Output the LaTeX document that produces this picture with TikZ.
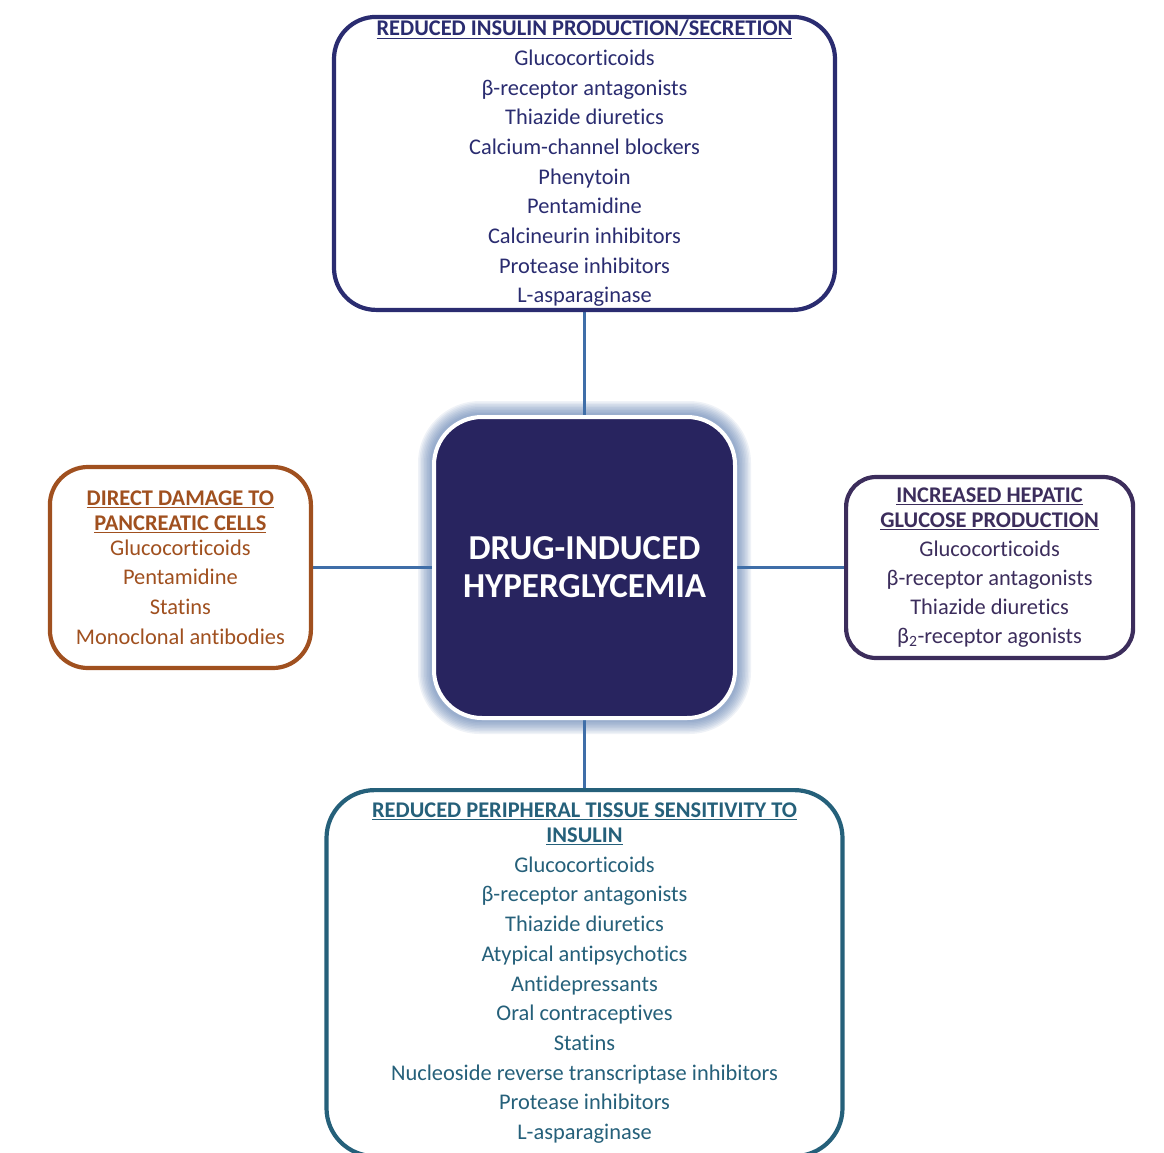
\documentclass[tikz,border=0pt]{standalone}
\usepackage{fontspec}
\setmainfont{Carlito}[Ligatures=NoCommon]
\usetikzlibrary{positioning,calc,backgrounds}
\definecolor{hubnavy}{HTML}{28245F}
\definecolor{secnavy}{HTML}{2A2C70}
\definecolor{dmgbrown}{HTML}{A0501F}
\definecolor{livpurple}{HTML}{3C2D5C}
\definecolor{tisteal}{HTML}{25607A}
\definecolor{linkblue}{HTML}{3F6EA8}
\definecolor{glowblue}{HTML}{4F72A8}
\newcommand{\mechhead}[1]{\textbf{\underline{#1}}}

\begin{document}
\begin{tikzpicture}[x=1pt,y=-1pt,
node distance=100pt,
causebox/.style={rectangle, draw, rounded corners=42pt, line width=4.2pt, fill=white, align=center, inner sep=0pt, font=\fontsize{22.4}{29.7}\selectfont},
hubbox/.style={rectangle, draw=white, fill=hubnavy, rounded corners=48pt, line width=4pt, minimum width=301pt, minimum height=301pt, align=center, text=white, font=\fontsize{35}{38}\selectfont\bfseries},
link/.style={line width=3.6pt, linkblue}
]
\useasboundingbox (0,0) rectangle (1164,1152);

\node (hub) [hubbox] at (584.5,567.5) {DRUG-INDUCED\\HYPERGLYCEMIA};
\node (secretion) [causebox, draw=secnavy, text=secnavy, minimum width=501pt, minimum height=293pt, above=103pt of hub] {\mechhead{REDUCED INSULIN PRODUCTION/SECRETION}\\
Glucocorticoids\\
β-receptor antagonists\\
Thiazide diuretics\\
Calcium-channel blockers\\
Phenytoin\\
Pentamidine\\
Calcineurin inhibitors\\
Protease inhibitors\\
L-asparaginase};
\node (damage) [causebox, draw=dmgbrown, text=dmgbrown, rounded corners=38pt, minimum width=261pt, minimum height=201pt, left=119pt of hub] {\mechhead{DIRECT DAMAGE TO}\\[-4.7pt]
\mechhead{PANCREATIC CELLS}\\[-4.7pt]
Glucocorticoids\\
Pentamidine\\
Statins\\
Monoclonal antibodies};
\node (hepatic) [causebox, draw=livpurple, text=livpurple, rounded corners=30pt, minimum width=287pt, minimum height=181pt, right=107pt of hub] {\mechhead{INCREASED HEPATIC}\\[-4.7pt]
\mechhead{GLUCOSE PRODUCTION}\\[-0.7pt]
Glucocorticoids\\[-0.7pt]
β-receptor antagonists\\[-0.7pt]
Thiazide diuretics\\[-0.7pt]
β\textsubscript{2}-receptor agonists};
\node (tissue) [causebox, draw=tisteal, text=tisteal, rounded corners=48pt, minimum width=516pt, minimum height=366pt, below=68pt of hub] {\mechhead{REDUCED PERIPHERAL TISSUE SENSITIVITY TO}\\[-4.7pt]
\mechhead{INSULIN}\\
Glucocorticoids\\
β-receptor antagonists\\
Thiazide diuretics\\
Atypical antipsychotics\\
Antidepressants\\
Oral contraceptives\\
Statins\\
Nucleoside reverse transcriptase inhibitors\\
Protease inhibitors\\
L-asparaginase};

\begin{scope}[on background layer]
% soft halo round the hub
\foreach \g in {14,12.5,...,1}
  \fill[glowblue, opacity=0.09, rounded corners=48pt+\g pt] ($(hub.south west)+(-\g,\g)$) rectangle ($(hub.north east)+(\g,-\g)$);
\draw [link] (secretion) -- (hub);
\draw [link] (damage) -- (hub);
\draw [link] (hepatic) -- (hub);
\draw [link] (tissue) -- (hub);
\end{scope}
\end{tikzpicture}
\end{document}
